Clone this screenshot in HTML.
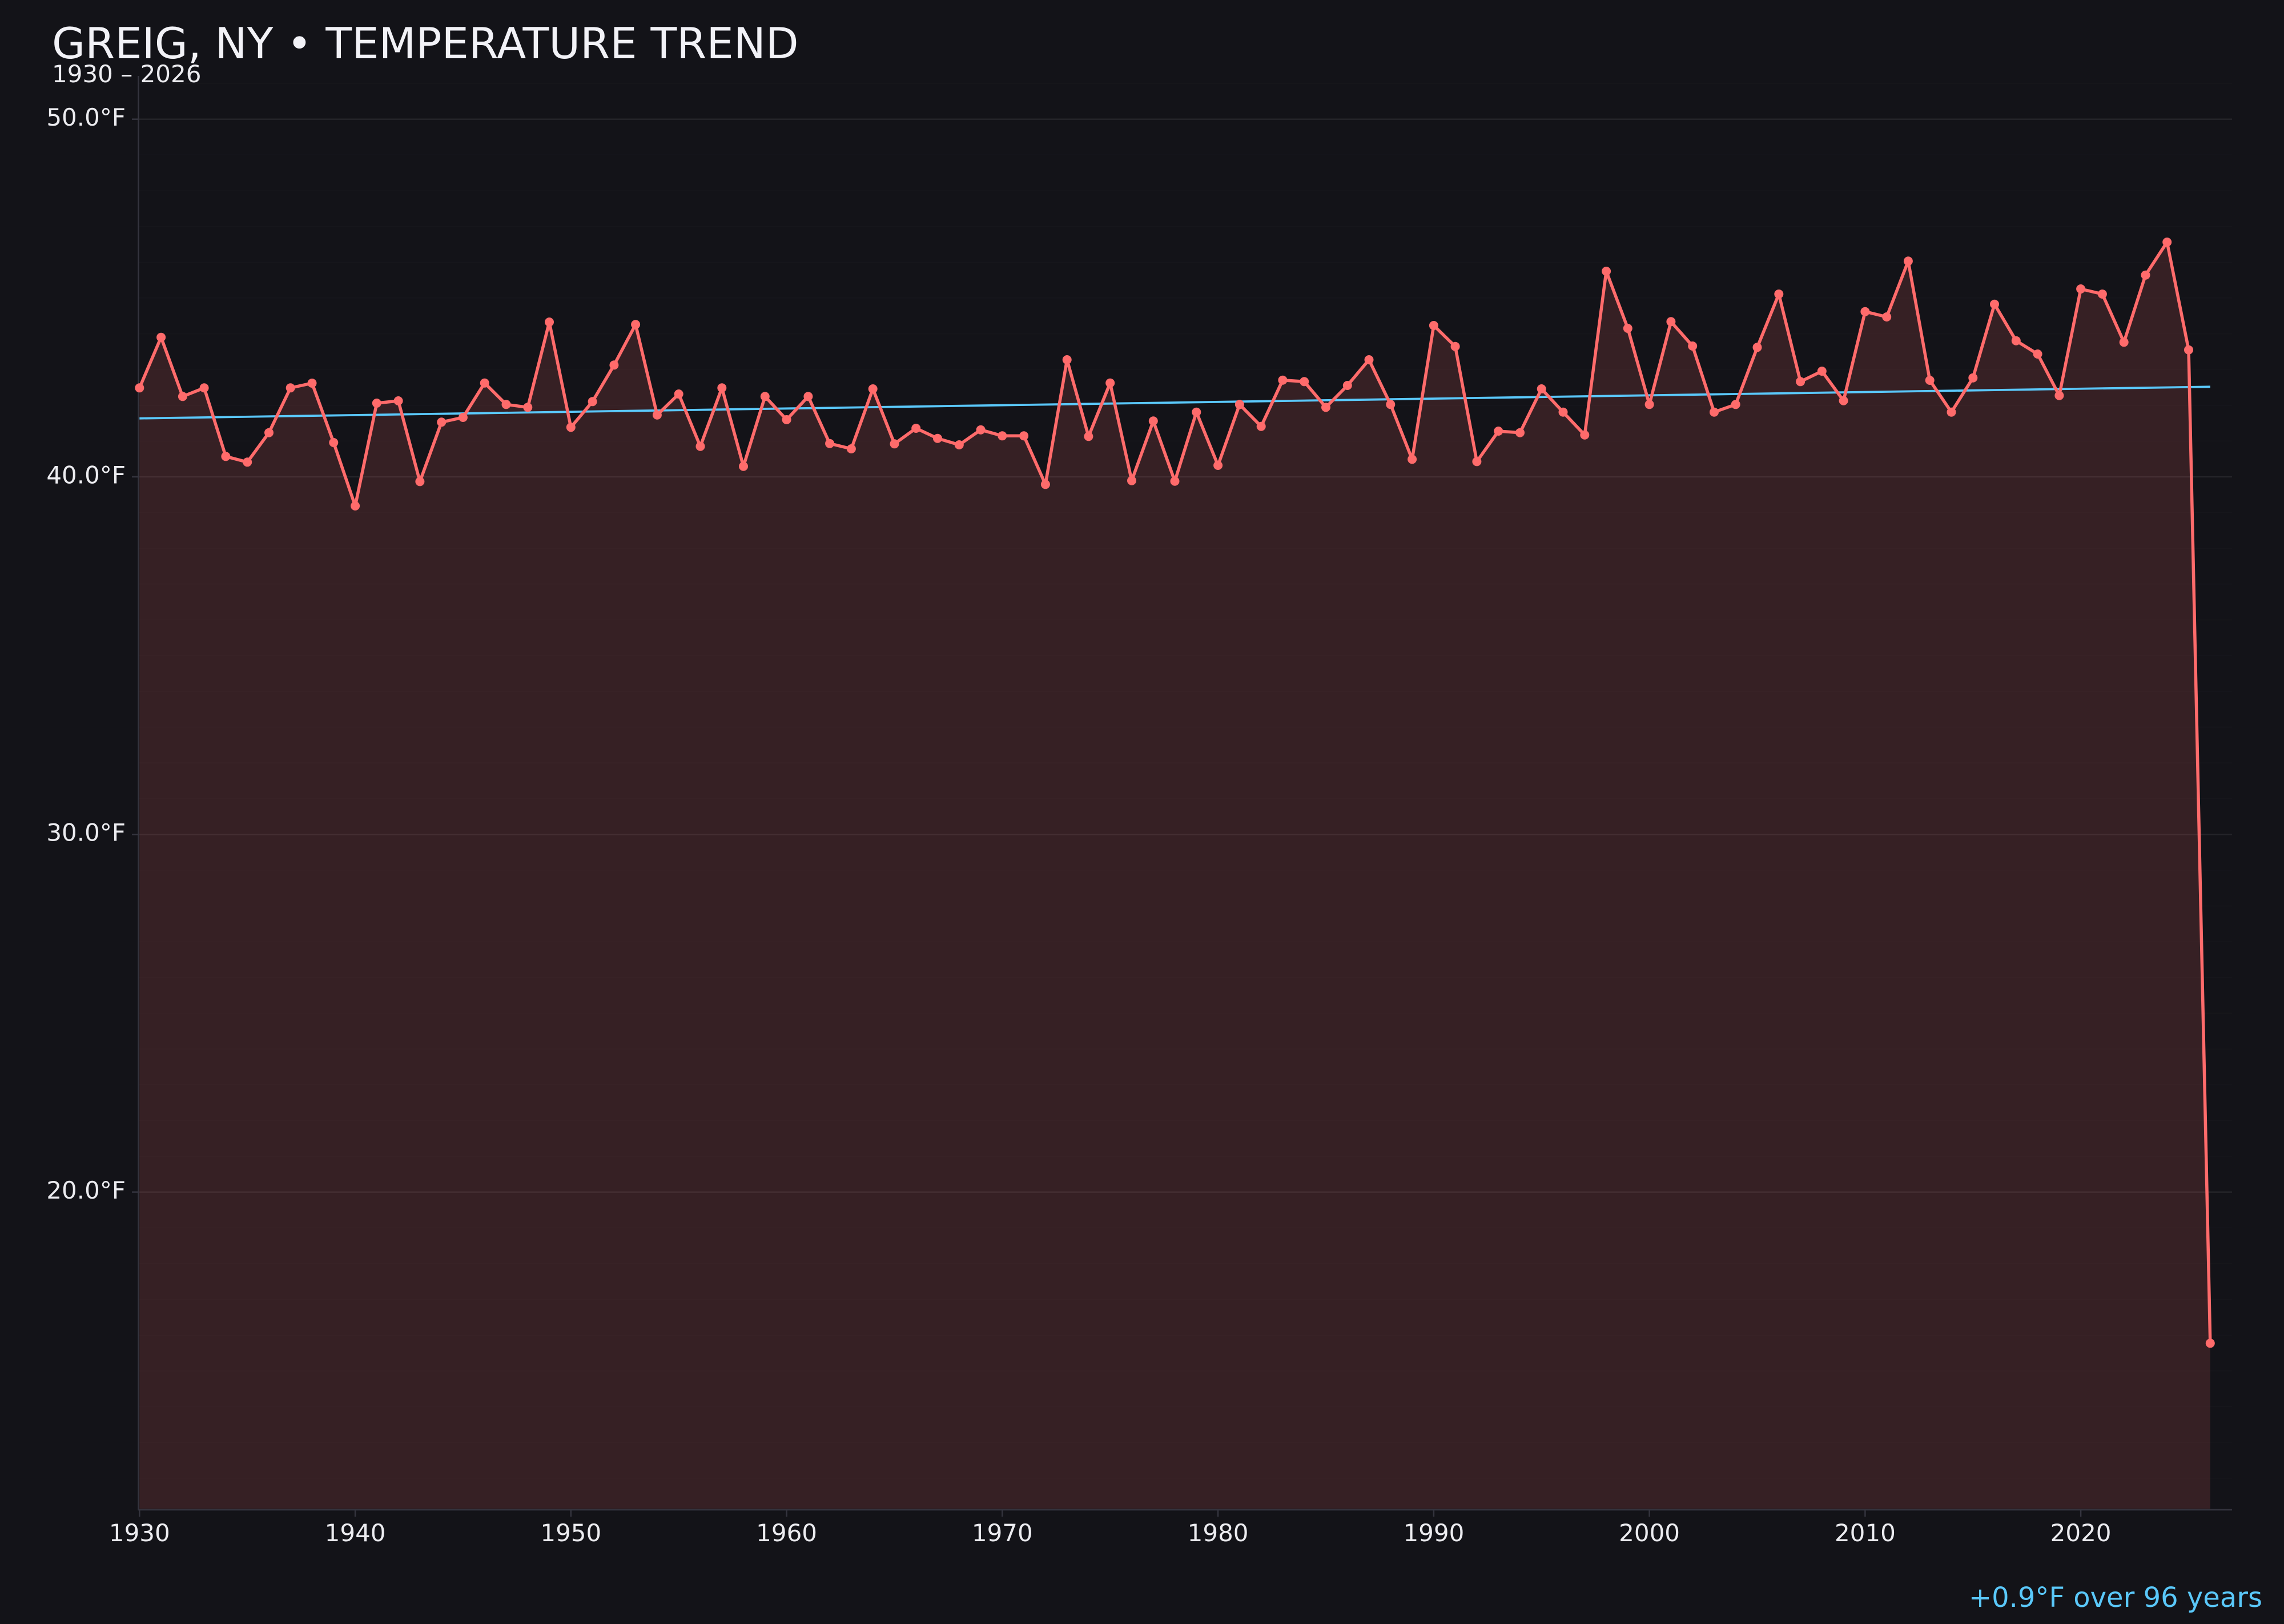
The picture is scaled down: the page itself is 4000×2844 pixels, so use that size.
<!DOCTYPE html>
<html>
<head>
<meta charset="utf-8">
<style>
html,body{margin:0;padding:0;background:#131318;}
svg{display:block;}
text{font-family:"DejaVu Sans","Liberation Sans",sans-serif;}
</style>
</head>
<body>
<svg width="4000" height="2844" viewBox="0 0 4000 2844" xmlns="http://www.w3.org/2000/svg">
<rect x="0" y="0" width="4000" height="2844" fill="#131318"/>

<!-- minor gridlines -->
<g stroke="#ffffff" stroke-opacity="0.015" stroke-width="1.5">
<line x1="242" y1="146.1" x2="3909" y2="146.1"/>
<line x1="242" y1="271.3" x2="3909" y2="271.3"/>
<line x1="242" y1="334" x2="3909" y2="334"/>
<line x1="242" y1="396.6" x2="3909" y2="396.6"/>
<line x1="242" y1="459.2" x2="3909" y2="459.2"/>
<line x1="242" y1="521.8" x2="3909" y2="521.8"/>
<line x1="242" y1="584.5" x2="3909" y2="584.5"/>
<line x1="242" y1="647.1" x2="3909" y2="647.1"/>
<line x1="242" y1="709.7" x2="3909" y2="709.7"/>
<line x1="242" y1="772.4" x2="3909" y2="772.4"/>
<line x1="242" y1="897.6" x2="3909" y2="897.6"/>
<line x1="242" y1="960.3" x2="3909" y2="960.3"/>
<line x1="242" y1="1022.9" x2="3909" y2="1022.9"/>
<line x1="242" y1="1085.5" x2="3909" y2="1085.5"/>
<line x1="242" y1="1148.2" x2="3909" y2="1148.2"/>
<line x1="242" y1="1210.8" x2="3909" y2="1210.8"/>
<line x1="242" y1="1273.4" x2="3909" y2="1273.4"/>
<line x1="242" y1="1336" x2="3909" y2="1336"/>
<line x1="242" y1="1398.7" x2="3909" y2="1398.7"/>
<line x1="242" y1="1523.9" x2="3909" y2="1523.9"/>
<line x1="242" y1="1586.6" x2="3909" y2="1586.6"/>
<line x1="242" y1="1649.2" x2="3909" y2="1649.2"/>
<line x1="242" y1="1711.8" x2="3909" y2="1711.8"/>
<line x1="242" y1="1774.5" x2="3909" y2="1774.5"/>
<line x1="242" y1="1837.1" x2="3909" y2="1837.1"/>
<line x1="242" y1="1899.7" x2="3909" y2="1899.7"/>
<line x1="242" y1="1962.4" x2="3909" y2="1962.4"/>
<line x1="242" y1="2025" x2="3909" y2="2025"/>
<line x1="242" y1="2150.2" x2="3909" y2="2150.2"/>
<line x1="242" y1="2212.9" x2="3909" y2="2212.9"/>
<line x1="242" y1="2275.5" x2="3909" y2="2275.5"/>
<line x1="242" y1="2338.1" x2="3909" y2="2338.1"/>
<line x1="242" y1="2400.8" x2="3909" y2="2400.8"/>
<line x1="242" y1="2463.4" x2="3909" y2="2463.4"/>
<line x1="242" y1="2526" x2="3909" y2="2526"/>
<line x1="242" y1="2588.6" x2="3909" y2="2588.6"/>
</g>

<!-- major gridlines -->
<g stroke="#ffffff" stroke-opacity="0.075" stroke-width="2.5">
<line x1="242" y1="208.7" x2="3909" y2="208.7"/>
<line x1="242" y1="835" x2="3909" y2="835"/>
<line x1="242" y1="1461.3" x2="3909" y2="1461.3"/>
<line x1="242" y1="2087.6" x2="3909" y2="2087.6"/>
</g>

<!-- y ticks -->
<g stroke="#34343e" stroke-width="2.5">
<line x1="231" y1="208.7" x2="242" y2="208.7"/>
<line x1="231" y1="835" x2="242" y2="835"/>
<line x1="231" y1="1461.3" x2="242" y2="1461.3"/>
<line x1="231" y1="2087.6" x2="242" y2="2087.6"/>
</g>

<!-- fill -->
<path fill="#ff6b6b" fill-opacity="0.15" d="M244.3,2642 L244.3,679.3 L282.1,590.7 L319.9,694.3 L357.6,679.3 L395.4,799.3 L433.2,809.3 L471.0,757.7 L508.7,679.3 L546.5,671 L584.3,775 L622.1,886 L659.8,706 L697.6,702 L735.4,843.3 L773.2,739.3 L810.9,731 L848.7,670.7 L886.5,708.3 L924.3,713.3 L962.0,564 L999.8,748.3 L1037.6,703.3 L1075.4,639.3 L1113.1,568.3 L1150.9,726.7 L1188.7,690 L1226.5,781.7 L1264.3,679.3 L1302.0,816.7 L1339.8,694.3 L1377.6,735 L1415.4,694.3 L1453.1,776.7 L1490.9,786 L1528.7,681 L1566.5,777.3 L1604.2,750 L1642.0,767.7 L1679.8,779 L1717.6,752.7 L1755.3,763.3 L1793.1,763.3 L1830.9,848.3 L1868.7,630 L1906.4,764.3 L1944.2,670.7 L1982.0,841.7 L2019.8,737.3 L2057.5,842.7 L2095.3,721.7 L2133.1,815 L2170.9,708.3 L2208.7,746.7 L2246.4,665.7 L2284.2,668.3 L2322.0,713.3 L2359.8,675 L2397.5,630 L2435.3,708.3 L2473.1,804.3 L2510.9,570 L2548.6,606.7 L2586.4,808.3 L2624.2,755 L2662.0,757.7 L2699.7,681 L2737.5,721.7 L2775.3,761.7 L2813.1,475 L2850.8,575 L2888.6,708.3 L2926.4,563.3 L2964.2,606 L3002.0,721.7 L3039.7,708.3 L3077.5,608.3 L3115.3,515 L3153.1,668.3 L3190.8,650 L3228.6,701.7 L3266.4,545.7 L3304.2,555 L3341.9,457.3 L3379.7,666 L3417.5,721.7 L3455.3,661.7 L3493.0,532.7 L3530.8,596.7 L3568.6,620 L3606.4,692.7 L3644.1,506 L3681.9,515 L3719.7,599.3 L3757.5,481.7 L3795.2,424 L3833.0,612.7 L3870.8,2352.3 L3870.8,2642 Z"/>

<!-- spines -->
<line x1="242.5" y1="133" x2="242.5" y2="2645" stroke="#34343e" stroke-width="2.5"/>
<line x1="242" y1="2644" x2="3909" y2="2644" stroke="#34343e" stroke-width="2.5"/>

<!-- x ticks -->
<g stroke="#34343e" stroke-width="2.5">
<line x1="244.3" y1="2645" x2="244.3" y2="2656"/>
<line x1="622.1" y1="2645" x2="622.1" y2="2656"/>
<line x1="999.8" y1="2645" x2="999.8" y2="2656"/>
<line x1="1377.6" y1="2645" x2="1377.6" y2="2656"/>
<line x1="1755.3" y1="2645" x2="1755.3" y2="2656"/>
<line x1="2133.1" y1="2645" x2="2133.1" y2="2656"/>
<line x1="2510.9" y1="2645" x2="2510.9" y2="2656"/>
<line x1="2888.6" y1="2645" x2="2888.6" y2="2656"/>
<line x1="3266.4" y1="2645" x2="3266.4" y2="2656"/>
<line x1="3644.1" y1="2645" x2="3644.1" y2="2656"/>
</g>

<!-- trend line -->
<line x1="244.3" y1="732.7" x2="3870.8" y2="677.3" stroke="#5ac8fa" stroke-width="3.8"/>

<!-- data line -->
<polyline fill="none" stroke="#ff6b6b" stroke-width="5.5" stroke-linejoin="round" stroke-linecap="round" points="244.3,679.3 282.1,590.7 319.9,694.3 357.6,679.3 395.4,799.3 433.2,809.3 471.0,757.7 508.7,679.3 546.5,671 584.3,775 622.1,886 659.8,706 697.6,702 735.4,843.3 773.2,739.3 810.9,731 848.7,670.7 886.5,708.3 924.3,713.3 962.0,564 999.8,748.3 1037.6,703.3 1075.4,639.3 1113.1,568.3 1150.9,726.7 1188.7,690 1226.5,781.7 1264.3,679.3 1302.0,816.7 1339.8,694.3 1377.6,735 1415.4,694.3 1453.1,776.7 1490.9,786 1528.7,681 1566.5,777.3 1604.2,750 1642.0,767.7 1679.8,779 1717.6,752.7 1755.3,763.3 1793.1,763.3 1830.9,848.3 1868.7,630 1906.4,764.3 1944.2,670.7 1982.0,841.7 2019.8,737.3 2057.5,842.7 2095.3,721.7 2133.1,815 2170.9,708.3 2208.7,746.7 2246.4,665.7 2284.2,668.3 2322.0,713.3 2359.8,675 2397.5,630 2435.3,708.3 2473.1,804.3 2510.9,570 2548.6,606.7 2586.4,808.3 2624.2,755 2662.0,757.7 2699.7,681 2737.5,721.7 2775.3,761.7 2813.1,475 2850.8,575 2888.6,708.3 2926.4,563.3 2964.2,606 3002.0,721.7 3039.7,708.3 3077.5,608.3 3115.3,515 3153.1,668.3 3190.8,650 3228.6,701.7 3266.4,545.7 3304.2,555 3341.9,457.3 3379.7,666 3417.5,721.7 3455.3,661.7 3493.0,532.7 3530.8,596.7 3568.6,620 3606.4,692.7 3644.1,506 3681.9,515 3719.7,599.3 3757.5,481.7 3795.2,424 3833.0,612.7 3870.8,2352.3"/>

<!-- markers -->
<g fill="#ff6b6b">
<circle cx="244.3" cy="679.3" r="8"/><circle cx="282.1" cy="590.7" r="8"/><circle cx="319.9" cy="694.3" r="8"/><circle cx="357.6" cy="679.3" r="8"/><circle cx="395.4" cy="799.3" r="8"/><circle cx="433.2" cy="809.3" r="8"/><circle cx="471.0" cy="757.7" r="8"/><circle cx="508.7" cy="679.3" r="8"/><circle cx="546.5" cy="671" r="8"/><circle cx="584.3" cy="775" r="8"/>
<circle cx="622.1" cy="886" r="8"/><circle cx="659.8" cy="706" r="8"/><circle cx="697.6" cy="702" r="8"/><circle cx="735.4" cy="843.3" r="8"/><circle cx="773.2" cy="739.3" r="8"/><circle cx="810.9" cy="731" r="8"/><circle cx="848.7" cy="670.7" r="8"/><circle cx="886.5" cy="708.3" r="8"/><circle cx="924.3" cy="713.3" r="8"/><circle cx="962.0" cy="564" r="8"/>
<circle cx="999.8" cy="748.3" r="8"/><circle cx="1037.6" cy="703.3" r="8"/><circle cx="1075.4" cy="639.3" r="8"/><circle cx="1113.1" cy="568.3" r="8"/><circle cx="1150.9" cy="726.7" r="8"/><circle cx="1188.7" cy="690" r="8"/><circle cx="1226.5" cy="781.7" r="8"/><circle cx="1264.3" cy="679.3" r="8"/><circle cx="1302.0" cy="816.7" r="8"/><circle cx="1339.8" cy="694.3" r="8"/>
<circle cx="1377.6" cy="735" r="8"/><circle cx="1415.4" cy="694.3" r="8"/><circle cx="1453.1" cy="776.7" r="8"/><circle cx="1490.9" cy="786" r="8"/><circle cx="1528.7" cy="681" r="8"/><circle cx="1566.5" cy="777.3" r="8"/><circle cx="1604.2" cy="750" r="8"/><circle cx="1642.0" cy="767.7" r="8"/><circle cx="1679.8" cy="779" r="8"/><circle cx="1717.6" cy="752.7" r="8"/>
<circle cx="1755.3" cy="763.3" r="8"/><circle cx="1793.1" cy="763.3" r="8"/><circle cx="1830.9" cy="848.3" r="8"/><circle cx="1868.7" cy="630" r="8"/><circle cx="1906.4" cy="764.3" r="8"/><circle cx="1944.2" cy="670.7" r="8"/><circle cx="1982.0" cy="841.7" r="8"/><circle cx="2019.8" cy="737.3" r="8"/><circle cx="2057.5" cy="842.7" r="8"/><circle cx="2095.3" cy="721.7" r="8"/>
<circle cx="2133.1" cy="815" r="8"/><circle cx="2170.9" cy="708.3" r="8"/><circle cx="2208.7" cy="746.7" r="8"/><circle cx="2246.4" cy="665.7" r="8"/><circle cx="2284.2" cy="668.3" r="8"/><circle cx="2322.0" cy="713.3" r="8"/><circle cx="2359.8" cy="675" r="8"/><circle cx="2397.5" cy="630" r="8"/><circle cx="2435.3" cy="708.3" r="8"/><circle cx="2473.1" cy="804.3" r="8"/>
<circle cx="2510.9" cy="570" r="8"/><circle cx="2548.6" cy="606.7" r="8"/><circle cx="2586.4" cy="808.3" r="8"/><circle cx="2624.2" cy="755" r="8"/><circle cx="2662.0" cy="757.7" r="8"/><circle cx="2699.7" cy="681" r="8"/><circle cx="2737.5" cy="721.7" r="8"/><circle cx="2775.3" cy="761.7" r="8"/><circle cx="2813.1" cy="475" r="8"/><circle cx="2850.8" cy="575" r="8"/>
<circle cx="2888.6" cy="708.3" r="8"/><circle cx="2926.4" cy="563.3" r="8"/><circle cx="2964.2" cy="606" r="8"/><circle cx="3002.0" cy="721.7" r="8"/><circle cx="3039.7" cy="708.3" r="8"/><circle cx="3077.5" cy="608.3" r="8"/><circle cx="3115.3" cy="515" r="8"/><circle cx="3153.1" cy="668.3" r="8"/><circle cx="3190.8" cy="650" r="8"/><circle cx="3228.6" cy="701.7" r="8"/>
<circle cx="3266.4" cy="545.7" r="8"/><circle cx="3304.2" cy="555" r="8"/><circle cx="3341.9" cy="457.3" r="8"/><circle cx="3379.7" cy="666" r="8"/><circle cx="3417.5" cy="721.7" r="8"/><circle cx="3455.3" cy="661.7" r="8"/><circle cx="3493.0" cy="532.7" r="8"/><circle cx="3530.8" cy="596.7" r="8"/><circle cx="3568.6" cy="620" r="8"/><circle cx="3606.4" cy="692.7" r="8"/>
<circle cx="3644.1" cy="506" r="8"/><circle cx="3681.9" cy="515" r="8"/><circle cx="3719.7" cy="599.3" r="8"/><circle cx="3757.5" cy="481.7" r="8"/><circle cx="3795.2" cy="424" r="8"/><circle cx="3833.0" cy="612.7" r="8"/><circle cx="3870.8" cy="2352.3" r="8"/>
</g>

<!-- y labels -->
<g fill="#ececf0" font-size="42" text-anchor="end">
<text x="220" y="220">50.0°F</text>
<text x="220" y="846.3">40.0°F</text>
<text x="220" y="1472.6">30.0°F</text>
<text x="220" y="2098.9">20.0°F</text>
</g>

<!-- x labels -->
<g fill="#ececf0" font-size="42" text-anchor="middle">
<text x="244.3" y="2699">1930</text>
<text x="622.1" y="2699">1940</text>
<text x="999.8" y="2699">1950</text>
<text x="1377.6" y="2699">1960</text>
<text x="1755.3" y="2699">1970</text>
<text x="2133.1" y="2699">1980</text>
<text x="2510.9" y="2699">1990</text>
<text x="2888.6" y="2699">2000</text>
<text x="3266.4" y="2699">2010</text>
<text x="3644.1" y="2699">2020</text>
</g>

<!-- title -->
<text x="91" y="102" fill="#f2f2f7" font-size="75">GREIG, NY • TEMPERATURE TREND</text>
<text x="91" y="144" fill="#ececf0" font-size="42">1930 – 2026</text>

<!-- annotation -->
<text x="3962" y="2814" fill="#5ac8fa" font-size="48" text-anchor="end">+0.9°F over 96 years</text>
</svg>
</body>
</html>
